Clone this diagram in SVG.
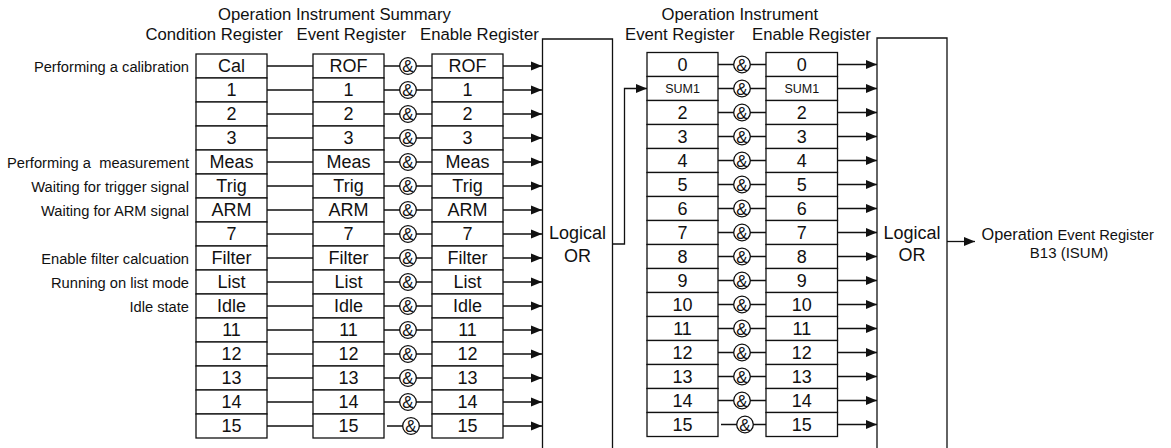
<svg xmlns="http://www.w3.org/2000/svg" width="1171" height="448" viewBox="0 0 1171 448">
<defs>
<marker id="ah" markerUnits="userSpaceOnUse" markerWidth="11" markerHeight="10" refX="11" refY="5" orient="auto">
<path d="M0,0.5 L11,5 L0,9.5 z" fill="#111"/>
</marker>
<style>
.b{fill:#fff;stroke:#111;stroke-width:1.3}
.l{fill:none;stroke:#111;stroke-width:1.3}
.a{fill:none;stroke:#111;stroke-width:1.3;marker-end:url(#ah)}
.t{font-family:"Liberation Sans",Arial,sans-serif;font-size:18px;fill:#111;text-anchor:middle}
.s{font-family:"Liberation Sans",Arial,sans-serif;font-size:12.5px;fill:#111;text-anchor:middle}
.h{font-family:"Liberation Sans",Arial,sans-serif;font-size:16.7px;fill:#111}
.lab{font-family:"Liberation Sans",Arial,sans-serif;font-size:14.7px;fill:#111;text-anchor:end;white-space:pre}
.amp{font-family:"Liberation Sans",Arial,sans-serif;font-size:17px;fill:#111;text-anchor:middle}
.c{fill:#fff;stroke:#111;stroke-width:1.3}
</style>
</defs>
<rect width="1171" height="448" fill="#fff"/>

<g id="headers">
<text class="h" x="218" y="20">Operation Instrument Summary</text>
<text class="h" x="145.5" y="40">Condition Register</text>
<text class="h" x="296.5" y="40">Event Register</text>
<text class="h" x="420" y="40">Enable Register</text>
<text class="h" x="661.5" y="20">Operation Instrument</text>
<text class="h" x="625" y="40">Event Register</text>
<text class="h" x="752" y="40">Enable Register</text>
</g>

<g id="labels">
<text class="lab" x="189" y="71.5">Performing a calibration</text>
<text class="lab" x="189" y="167.5">Performing a  measurement</text>
<text class="lab" x="189" y="191.5">Waiting for trigger signal</text>
<text class="lab" x="189" y="215.5">Waiting for ARM signal</text>
<text class="lab" x="189" y="263.5">Enable filter calcuation</text>
<text class="lab" x="189" y="287.5">Running on list mode</text>
<text class="lab" x="189" y="311.5">Idle state</text>
</g>

<g id="condition-register">
<rect class="b" x="196" y="54" width="71" height="24"/><text class="t" x="231.5" y="72.3">Cal</text>
<rect class="b" x="196" y="78" width="71" height="24"/><text class="t" x="231.5" y="96.3">1</text>
<rect class="b" x="196" y="102" width="71" height="24"/><text class="t" x="231.5" y="120.3">2</text>
<rect class="b" x="196" y="126" width="71" height="24"/><text class="t" x="231.5" y="144.3">3</text>
<rect class="b" x="196" y="150" width="71" height="24"/><text class="t" x="231.5" y="168.3">Meas</text>
<rect class="b" x="196" y="174" width="71" height="24"/><text class="t" x="231.5" y="192.3">Trig</text>
<rect class="b" x="196" y="198" width="71" height="24"/><text class="t" x="231.5" y="216.3">ARM</text>
<rect class="b" x="196" y="222" width="71" height="24"/><text class="t" x="231.5" y="240.3">7</text>
<rect class="b" x="196" y="246" width="71" height="24"/><text class="t" x="231.5" y="264.3">Filter</text>
<rect class="b" x="196" y="270" width="71" height="24"/><text class="t" x="231.5" y="288.3">List</text>
<rect class="b" x="196" y="294" width="71" height="24"/><text class="t" x="231.5" y="312.3">Idle</text>
<rect class="b" x="196" y="318" width="71" height="24"/><text class="t" x="231.5" y="336.3">11</text>
<rect class="b" x="196" y="342" width="71" height="24"/><text class="t" x="231.5" y="360.3">12</text>
<rect class="b" x="196" y="366" width="71" height="24"/><text class="t" x="231.5" y="384.3">13</text>
<rect class="b" x="196" y="390" width="71" height="24"/><text class="t" x="231.5" y="408.3">14</text>
<rect class="b" x="196" y="414" width="71" height="24"/><text class="t" x="231.5" y="432.3">15</text>
</g>

<g id="summary-event-register">
<rect class="b" x="313" y="54" width="71" height="24"/><text class="t" x="348.5" y="72.3">ROF</text>
<rect class="b" x="313" y="78" width="71" height="24"/><text class="t" x="348.5" y="96.3">1</text>
<rect class="b" x="313" y="102" width="71" height="24"/><text class="t" x="348.5" y="120.3">2</text>
<rect class="b" x="313" y="126" width="71" height="24"/><text class="t" x="348.5" y="144.3">3</text>
<rect class="b" x="313" y="150" width="71" height="24"/><text class="t" x="348.5" y="168.3">Meas</text>
<rect class="b" x="313" y="174" width="71" height="24"/><text class="t" x="348.5" y="192.3">Trig</text>
<rect class="b" x="313" y="198" width="71" height="24"/><text class="t" x="348.5" y="216.3">ARM</text>
<rect class="b" x="313" y="222" width="71" height="24"/><text class="t" x="348.5" y="240.3">7</text>
<rect class="b" x="313" y="246" width="71" height="24"/><text class="t" x="348.5" y="264.3">Filter</text>
<rect class="b" x="313" y="270" width="71" height="24"/><text class="t" x="348.5" y="288.3">List</text>
<rect class="b" x="313" y="294" width="71" height="24"/><text class="t" x="348.5" y="312.3">Idle</text>
<rect class="b" x="313" y="318" width="71" height="24"/><text class="t" x="348.5" y="336.3">11</text>
<rect class="b" x="313" y="342" width="71" height="24"/><text class="t" x="348.5" y="360.3">12</text>
<rect class="b" x="313" y="366" width="71" height="24"/><text class="t" x="348.5" y="384.3">13</text>
<rect class="b" x="313" y="390" width="71" height="24"/><text class="t" x="348.5" y="408.3">14</text>
<rect class="b" x="313" y="414" width="71" height="24"/><text class="t" x="348.5" y="432.3">15</text>
</g>

<g id="summary-enable-register">
<rect class="b" x="432" y="54" width="71" height="24"/><text class="t" x="467.5" y="72.3">ROF</text>
<rect class="b" x="432" y="78" width="71" height="24"/><text class="t" x="467.5" y="96.3">1</text>
<rect class="b" x="432" y="102" width="71" height="24"/><text class="t" x="467.5" y="120.3">2</text>
<rect class="b" x="432" y="126" width="71" height="24"/><text class="t" x="467.5" y="144.3">3</text>
<rect class="b" x="432" y="150" width="71" height="24"/><text class="t" x="467.5" y="168.3">Meas</text>
<rect class="b" x="432" y="174" width="71" height="24"/><text class="t" x="467.5" y="192.3">Trig</text>
<rect class="b" x="432" y="198" width="71" height="24"/><text class="t" x="467.5" y="216.3">ARM</text>
<rect class="b" x="432" y="222" width="71" height="24"/><text class="t" x="467.5" y="240.3">7</text>
<rect class="b" x="432" y="246" width="71" height="24"/><text class="t" x="467.5" y="264.3">Filter</text>
<rect class="b" x="432" y="270" width="71" height="24"/><text class="t" x="467.5" y="288.3">List</text>
<rect class="b" x="432" y="294" width="71" height="24"/><text class="t" x="467.5" y="312.3">Idle</text>
<rect class="b" x="432" y="318" width="71" height="24"/><text class="t" x="467.5" y="336.3">11</text>
<rect class="b" x="432" y="342" width="71" height="24"/><text class="t" x="467.5" y="360.3">12</text>
<rect class="b" x="432" y="366" width="71" height="24"/><text class="t" x="467.5" y="384.3">13</text>
<rect class="b" x="432" y="390" width="71" height="24"/><text class="t" x="467.5" y="408.3">14</text>
<rect class="b" x="432" y="414" width="71" height="24"/><text class="t" x="467.5" y="432.3">15</text>
</g>

<g id="logical-or-1">
<path class="l" d="M542.5,460 V39 H612.5 V460"/>
<text class="t" x="577.5" y="239">Logical</text>
<text class="t" x="577.5" y="261.5">OR</text>
</g>

<g id="instrument-event-register">
<rect class="b" x="647" y="52.5" width="71" height="24"/><text class="t" x="682.5" y="70.8">0</text>
<rect class="b" x="647" y="76.5" width="71" height="24"/><text class="s" x="682.5" y="93">SUM1</text>
<rect class="b" x="647" y="100.5" width="71" height="24"/><text class="t" x="682.5" y="118.8">2</text>
<rect class="b" x="647" y="124.5" width="71" height="24"/><text class="t" x="682.5" y="142.8">3</text>
<rect class="b" x="647" y="148.5" width="71" height="24"/><text class="t" x="682.5" y="166.8">4</text>
<rect class="b" x="647" y="172.5" width="71" height="24"/><text class="t" x="682.5" y="190.8">5</text>
<rect class="b" x="647" y="196.5" width="71" height="24"/><text class="t" x="682.5" y="214.8">6</text>
<rect class="b" x="647" y="220.5" width="71" height="24"/><text class="t" x="682.5" y="238.8">7</text>
<rect class="b" x="647" y="244.5" width="71" height="24"/><text class="t" x="682.5" y="262.8">8</text>
<rect class="b" x="647" y="268.5" width="71" height="24"/><text class="t" x="682.5" y="286.8">9</text>
<rect class="b" x="647" y="292.5" width="71" height="24"/><text class="t" x="682.5" y="310.8">10</text>
<rect class="b" x="647" y="316.5" width="71" height="24"/><text class="t" x="682.5" y="334.8">11</text>
<rect class="b" x="647" y="340.5" width="71" height="24"/><text class="t" x="682.5" y="358.8">12</text>
<rect class="b" x="647" y="364.5" width="71" height="24"/><text class="t" x="682.5" y="382.8">13</text>
<rect class="b" x="647" y="388.5" width="71" height="24"/><text class="t" x="682.5" y="406.8">14</text>
<rect class="b" x="647" y="412.5" width="71" height="24"/><text class="t" x="682.5" y="430.8">15</text>
</g>

<g id="instrument-enable-register">
<rect class="b" x="766" y="52.5" width="71.5" height="24"/><text class="t" x="801.8" y="70.8">0</text>
<rect class="b" x="766" y="76.5" width="71.5" height="24"/><text class="s" x="801.8" y="93">SUM1</text>
<rect class="b" x="766" y="100.5" width="71.5" height="24"/><text class="t" x="801.8" y="118.8">2</text>
<rect class="b" x="766" y="124.5" width="71.5" height="24"/><text class="t" x="801.8" y="142.8">3</text>
<rect class="b" x="766" y="148.5" width="71.5" height="24"/><text class="t" x="801.8" y="166.8">4</text>
<rect class="b" x="766" y="172.5" width="71.5" height="24"/><text class="t" x="801.8" y="190.8">5</text>
<rect class="b" x="766" y="196.5" width="71.5" height="24"/><text class="t" x="801.8" y="214.8">6</text>
<rect class="b" x="766" y="220.5" width="71.5" height="24"/><text class="t" x="801.8" y="238.8">7</text>
<rect class="b" x="766" y="244.5" width="71.5" height="24"/><text class="t" x="801.8" y="262.8">8</text>
<rect class="b" x="766" y="268.5" width="71.5" height="24"/><text class="t" x="801.8" y="286.8">9</text>
<rect class="b" x="766" y="292.5" width="71.5" height="24"/><text class="t" x="801.8" y="310.8">10</text>
<rect class="b" x="766" y="316.5" width="71.5" height="24"/><text class="t" x="801.8" y="334.8">11</text>
<rect class="b" x="766" y="340.5" width="71.5" height="24"/><text class="t" x="801.8" y="358.8">12</text>
<rect class="b" x="766" y="364.5" width="71.5" height="24"/><text class="t" x="801.8" y="382.8">13</text>
<rect class="b" x="766" y="388.5" width="71.5" height="24"/><text class="t" x="801.8" y="406.8">14</text>
<rect class="b" x="766" y="412.5" width="71.5" height="24"/><text class="t" x="801.8" y="430.8">15</text>
</g>

<g id="logical-or-2">
<path class="l" d="M877,460 V38 H947 V460"/>
<text class="t" x="912" y="238.5">Logical</text>
<text class="t" x="912" y="261">OR</text>
</g>

<g id="output-label">
<text x="981.5" y="239.5" style="font-family:'Liberation Sans',Arial,sans-serif;fill:#111"><tspan font-size="16.3">Operation </tspan><tspan font-size="14.7">Event Register</tspan></text>
<text x="1069" y="257.5" style="font-family:'Liberation Sans',Arial,sans-serif;font-size:15px;fill:#111;text-anchor:middle">B13 (ISUM)</text>
</g>

<g id="and-gates">
<g id="and-1">
<circle class="c" cx="408" cy="66" r="8.3"/><text class="amp" x="408" y="72">&amp;</text>
<circle class="c" cx="408" cy="90" r="8.3"/><text class="amp" x="408" y="96">&amp;</text>
<circle class="c" cx="408" cy="114" r="8.3"/><text class="amp" x="408" y="120">&amp;</text>
<circle class="c" cx="408" cy="138" r="8.3"/><text class="amp" x="408" y="144">&amp;</text>
<circle class="c" cx="408" cy="162" r="8.3"/><text class="amp" x="408" y="168">&amp;</text>
<circle class="c" cx="408" cy="186" r="8.3"/><text class="amp" x="408" y="192">&amp;</text>
<circle class="c" cx="408" cy="210" r="8.3"/><text class="amp" x="408" y="216">&amp;</text>
<circle class="c" cx="408" cy="234" r="8.3"/><text class="amp" x="408" y="240">&amp;</text>
<circle class="c" cx="408" cy="258" r="8.3"/><text class="amp" x="408" y="264">&amp;</text>
<circle class="c" cx="408" cy="282" r="8.3"/><text class="amp" x="408" y="288">&amp;</text>
<circle class="c" cx="408" cy="306" r="8.3"/><text class="amp" x="408" y="312">&amp;</text>
<circle class="c" cx="408" cy="330" r="8.3"/><text class="amp" x="408" y="336">&amp;</text>
<circle class="c" cx="408" cy="354" r="8.3"/><text class="amp" x="408" y="360">&amp;</text>
<circle class="c" cx="408" cy="378" r="8.3"/><text class="amp" x="408" y="384">&amp;</text>
<circle class="c" cx="408" cy="402" r="8.3"/><text class="amp" x="408" y="408">&amp;</text>
<circle class="c" cx="411" cy="426" r="8.3"/><text class="amp" x="411" y="432">&amp;</text>
</g>
<g id="and-2">
<circle class="c" cx="742" cy="64.5" r="8.3"/><text class="amp" x="742" y="70.5">&amp;</text>
<circle class="c" cx="742" cy="88.5" r="8.3"/><text class="amp" x="742" y="94.5">&amp;</text>
<circle class="c" cx="742" cy="112.5" r="8.3"/><text class="amp" x="742" y="118.5">&amp;</text>
<circle class="c" cx="742" cy="136.5" r="8.3"/><text class="amp" x="742" y="142.5">&amp;</text>
<circle class="c" cx="742" cy="160.5" r="8.3"/><text class="amp" x="742" y="166.5">&amp;</text>
<circle class="c" cx="742" cy="184.5" r="8.3"/><text class="amp" x="742" y="190.5">&amp;</text>
<circle class="c" cx="742" cy="208.5" r="8.3"/><text class="amp" x="742" y="214.5">&amp;</text>
<circle class="c" cx="742" cy="232.5" r="8.3"/><text class="amp" x="742" y="238.5">&amp;</text>
<circle class="c" cx="742" cy="256.5" r="8.3"/><text class="amp" x="742" y="262.5">&amp;</text>
<circle class="c" cx="742" cy="280.5" r="8.3"/><text class="amp" x="742" y="286.5">&amp;</text>
<circle class="c" cx="742" cy="304.5" r="8.3"/><text class="amp" x="742" y="310.5">&amp;</text>
<circle class="c" cx="742" cy="328.5" r="8.3"/><text class="amp" x="742" y="334.5">&amp;</text>
<circle class="c" cx="742" cy="352.5" r="8.3"/><text class="amp" x="742" y="358.5">&amp;</text>
<circle class="c" cx="742" cy="376.5" r="8.3"/><text class="amp" x="742" y="382.5">&amp;</text>
<circle class="c" cx="742" cy="400.5" r="8.3"/><text class="amp" x="742" y="406.5">&amp;</text>
<circle class="c" cx="745" cy="424.5" r="8.3"/><text class="amp" x="745" y="430.5">&amp;</text>
</g>
</g>

<g id="connectors">
<path class="l" d="M267,66H313M267,90H313M267,114H313M267,138H313M267,162H313M267,186H313M267,210H313M267,234H313M267,258H313M267,282H313M267,306H313M267,330H313M267,354H313M267,378H313M267,402H313M267,426H313"/>
<path class="l" d="M384,66H400M416,66H432M384,90H400M416,90H432M384,114H400M416,114H432M384,138H400M416,138H432M384,162H400M416,162H432M384,186H400M416,186H432M384,210H400M416,210H432M384,234H400M416,234H432M384,258H400M416,258H432M384,282H400M416,282H432M384,306H400M416,306H432M384,330H400M416,330H432M384,354H400M416,354H432M384,378H400M416,378H432M384,402H400M416,402H432M387,426H403M419,426H432"/>
<path class="a" d="M503,66H542"/><path class="a" d="M503,90H542"/><path class="a" d="M503,114H542"/><path class="a" d="M503,138H542"/>
<path class="a" d="M503,162H542"/><path class="a" d="M503,186H542"/><path class="a" d="M503,210H542"/><path class="a" d="M503,234H542"/>
<path class="a" d="M503,258H542"/><path class="a" d="M503,282H542"/><path class="a" d="M503,306H542"/><path class="a" d="M503,330H542"/>
<path class="a" d="M503,354H542"/><path class="a" d="M503,378H542"/><path class="a" d="M503,402H542"/><path class="a" d="M503,426H542"/>
<path class="a" d="M612.5,244H624.5V88.5H647"/>
<path class="l" d="M718,64.5H734M750,64.5H766M718,88.5H734M750,88.5H766M718,112.5H734M750,112.5H766M718,136.5H734M750,136.5H766M718,160.5H734M750,160.5H766M718,184.5H734M750,184.5H766M718,208.5H734M750,208.5H766M718,232.5H734M750,232.5H766M718,256.5H734M750,256.5H766M718,280.5H734M750,280.5H766M718,304.5H734M750,304.5H766M718,328.5H734M750,328.5H766M718,352.5H734M750,352.5H766M718,376.5H734M750,376.5H766M718,400.5H734M750,400.5H766M721,424.5H737M753,424.5H766"/>
<path class="a" d="M837.5,64.5H877"/><path class="a" d="M837.5,88.5H877"/><path class="a" d="M837.5,112.5H877"/><path class="a" d="M837.5,136.5H877"/>
<path class="a" d="M837.5,160.5H877"/><path class="a" d="M837.5,184.5H877"/><path class="a" d="M837.5,208.5H877"/><path class="a" d="M837.5,232.5H877"/>
<path class="a" d="M837.5,256.5H877"/><path class="a" d="M837.5,280.5H877"/><path class="a" d="M837.5,304.5H877"/><path class="a" d="M837.5,328.5H877"/>
<path class="a" d="M837.5,352.5H877"/><path class="a" d="M837.5,376.5H877"/><path class="a" d="M837.5,400.5H877"/><path class="a" d="M837.5,424.5H877"/>
<path class="a" d="M947,241.5H975"/>
</g>
</svg>
